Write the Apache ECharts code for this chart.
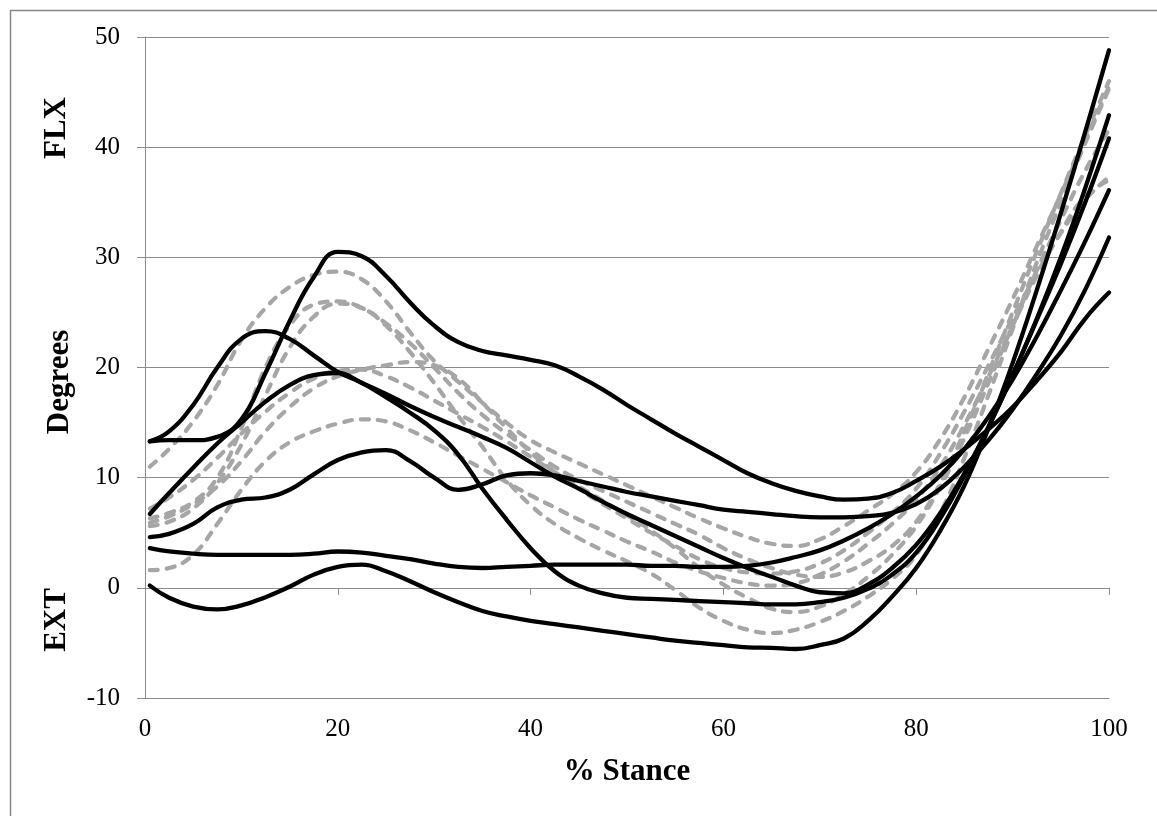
<!DOCTYPE html>
<html>
<head>
<meta charset="utf-8">
<script src="https://cdn.jsdelivr.net/npm/echarts@6/dist/echarts.min.js"></script>
<style>
html,body{margin:0;padding:0;background:#fff;}
#chart{width:1157px;height:816px;}
</style>
</head>
<body>
<div id="chart"></div>
<script>
// % stance sample points
const stance = [0.5,2.5,5,7.5,10,12.5,15,17.5,20,22.5,25,27.5,30,32.5,35,37.5,40,42.5,45,47.5,50,52.5,55,57.5,60,62.5,65,67.5,70,72.5,75,77.5,80,82.5,85,87.5,90,92.5,95,97.5,100];

// black solid curves
const blackA = [13.3,14.2,16.6,20.0,22.6,23.3,22.6,21.1,19.6,18.6,17.3,15.9,14.3,12.1,9.0,6.2,3.6,1.5,0.2,-0.5,-0.9,-1.0,-1.1,-1.2,-1.3,-1.4,-1.5,-1.5,-1.3,-0.9,-0.1,1.2,3.2,6.3,10.2,14.6,19.3,24.3,29.4,34.9,40.8];
const blackB = [13.3,13.4,13.4,13.7,15.3,19.5,24.2,28.2,30.5,30.1,28.3,25.9,23.8,22.3,21.5,21.1,20.7,20.2,19.2,18.0,16.6,15.3,14.0,12.8,11.6,10.4,9.5,8.8,8.3,8.0,8.1,8.6,9.7,11.0,12.6,14.4,16.4,18.8,21.4,24.4,26.8];
const blackC = [6.7,8.6,10.9,13.1,15.0,16.9,18.4,19.3,19.5,18.6,17.6,16.5,15.5,14.6,13.7,12.7,11.4,10.1,9.0,7.8,6.7,5.7,4.7,3.7,2.7,1.8,1.0,0.2,-0.4,-0.5,0.3,1.8,3.9,6.8,10.4,14.6,19.3,24.4,30.0,36.2,42.9];
const blackD = [4.6,4.9,5.8,7.3,8.0,8.2,8.9,10.3,11.6,12.3,12.5,11.5,10.0,8.9,9.4,10.2,10.4,10.2,9.7,9.2,8.7,8.3,7.9,7.5,7.1,6.9,6.7,6.5,6.4,6.4,6.5,6.8,7.6,9.0,11.0,13.4,16.2,19.4,22.9,27.0,31.8];
const blackE = [3.6,3.3,3.1,3.0,3.0,3.0,3.0,3.1,3.3,3.2,2.9,2.6,2.2,1.9,1.8,1.9,2.0,2.1,2.1,2.1,2.1,2.0,2.0,1.9,1.9,2.0,2.3,2.8,3.4,4.3,5.4,6.7,8.3,10.2,12.6,15.5,18.9,22.8,27.0,31.4,36.1];
const blackF = [0.2,-0.9,-1.7,-1.95,-1.6,-0.85,0.1,1.2,1.9,2.1,1.5,0.6,-0.4,-1.3,-2.1,-2.6,-3.0,-3.3,-3.6,-3.9,-4.2,-4.5,-4.8,-5.0,-5.2,-5.4,-5.45,-5.55,-5.2,-4.6,-3.0,-0.8,1.8,5.2,9.3,14.5,20.4,27.0,34.0,41.3,48.8];

// grey dashed curves
const greyA = [11.0,12.6,15.1,18.4,22.5,25.4,27.3,28.4,28.7,28.0,26.0,23.2,20.6,18.7,16.8,15.0,13.4,12.3,11.3,10.3,9.3,8.3,7.3,6.3,5.4,4.6,4.0,3.8,4.4,5.6,7.0,8.5,10.5,13.5,17.3,21.7,26.2,31.0,35.7,40.6,45.5];
const greyB = [6.3,6.8,7.8,10.0,14.5,20.0,23.8,25.7,26.0,25.4,24.0,22.2,20.0,17.7,15.7,14.0,12.5,11.0,9.8,8.8,7.8,6.8,5.8,4.8,3.6,2.6,1.8,1.2,1.0,1.4,2.4,3.8,6.0,9.5,14.2,19.5,25.0,30.5,35.8,41.0,46.0];
const greyC = [5.6,6.0,7.2,9.5,13.0,17.5,21.8,24.6,25.8,25.4,23.8,21.4,18.6,15.6,12.8,9.8,7.5,5.8,4.5,3.4,2.4,1.3,-0.2,-1.8,-3.0,-3.8,-4.1,-3.8,-3.1,-2.1,-0.8,0.8,3.0,6.8,11.8,17.5,23.5,29.5,35.0,40.3,45.3];
const greyD = [5.9,6.5,7.6,9.2,11.5,14.2,16.4,18.1,19.2,19.8,20.2,20.5,20.2,19.0,16.8,14.5,12.3,10.5,9.0,7.6,6.3,5.0,3.8,2.6,1.8,1.4,1.3,1.5,2.2,3.4,5.0,6.8,9.0,12.2,16.0,20.2,24.5,28.5,32.2,35.2,37.3];
const greyE = [7.2,8.2,9.8,11.8,14.0,16.0,17.7,19.0,19.7,19.8,19.2,18.2,17.0,15.8,14.6,13.3,11.9,10.5,9.2,7.9,6.6,5.2,3.6,1.8,0.3,-0.9,-1.9,-2.2,-1.7,-0.6,1.0,3.0,5.6,9.2,13.6,18.6,23.8,28.8,33.4,37.8,41.6];
const greyF = [1.6,1.8,3.0,5.8,8.9,11.5,13.2,14.2,14.9,15.3,15.1,14.3,13.2,12.0,10.8,9.6,8.4,7.3,6.2,5.2,4.2,3.3,2.3,1.5,0.9,0.4,0.2,0.4,1.2,2.4,4.0,5.8,8.0,11.0,14.8,19.2,23.8,28.3,32.3,35.5,37.0];

const blackSeries = [blackA, blackB, blackC, blackD, blackE, blackF];
const greySeries = [greyA, greyB, greyC, greyD, greyE, greyF];

const FONT = '"Liberation Serif", "Times New Roman", serif';
const AXIS_GREY = '#8c8c8c';

function pairs(vals){ return stance.map((x,i)=>[x, vals[i]]); }

const series = [];
greySeries.forEach((v,i)=>{
  series.push({
    name:'grey'+i, type:'line', data:pairs(v), smooth:0.45, symbol:'none',
    lineStyle:{color:'#a6a6a6', width:4.2, type:[8,9], cap:'round'},
    z:2, silent:true
  });
});
blackSeries.forEach((v,i)=>{
  series.push({
    name:'black'+i, type:'line', data:pairs(v), smooth:0.45, symbol:'none',
    lineStyle:{color:'#000', width:4.3, cap:'round'},
    z:3, silent:true
  });
});

const chart = echarts.init(document.getElementById('chart'), null, {renderer:'canvas'});
chart.setOption({
  animation:false,
  backgroundColor:'#fff',
  grid:{left:145, right:48, top:37, bottom:118, containLabel:false},
  xAxis:[{
    type:'value', min:0, max:100, interval:20,
    axisLine:{show:true, onZero:false, lineStyle:{color:AXIS_GREY, width:1}},
    axisTick:{show:false},
    splitLine:{show:false},
    axisLabel:{color:'#000', fontFamily:FONT, fontSize:25, margin:19},
    name:'% Stance', nameLocation:'middle', nameGap:58,
    nameTextStyle:{color:'#000', fontFamily:FONT, fontSize:31, fontWeight:'bold'}
  },{
    type:'value', min:0, max:100, interval:20, position:'bottom',
    axisLine:{show:true, onZero:true, onZeroAxisIndex:0, lineStyle:{color:AXIS_GREY, width:1}},
    axisTick:{show:true, inside:false, length:7, lineStyle:{color:AXIS_GREY, width:1}},
    axisLabel:{show:false},
    splitLine:{show:false}
  }],
  yAxis:{
    type:'value', min:-10, max:50, interval:10,
    axisLine:{show:true, lineStyle:{color:AXIS_GREY, width:1}},
    axisTick:{show:true, inside:false, length:8, lineStyle:{color:AXIS_GREY, width:1}},
    splitLine:{show:true, lineStyle:{color:AXIS_GREY, width:1}},
    axisLabel:{color:'#000', fontFamily:FONT, fontSize:25, margin:25}
  },
  graphic:[
    {type:'rect', left:8, top:8, silent:true, z:0,
     shape:{x:0,y:0,width:1400,height:1000},
     style:{fill:'none', stroke:'#868686', lineWidth:1.5}},
    {type:'text', x:57, y:128, rotation:Math.PI/2, silent:true,
     style:{text:'FLX', font:'bold 31px '+FONT, fill:'#000', textAlign:'center', textVerticalAlign:'middle'}},
    {type:'text', x:60, y:382, rotation:Math.PI/2, silent:true,
     style:{text:'Degrees', font:'bold 31px '+FONT, fill:'#000', textAlign:'center', textVerticalAlign:'middle'}},
    {type:'text', x:57, y:620, rotation:Math.PI/2, silent:true,
     style:{text:'EXT', font:'bold 31px '+FONT, fill:'#000', textAlign:'center', textVerticalAlign:'middle'}}
  ],
  series:series
});
</script>
</body>
</html>
